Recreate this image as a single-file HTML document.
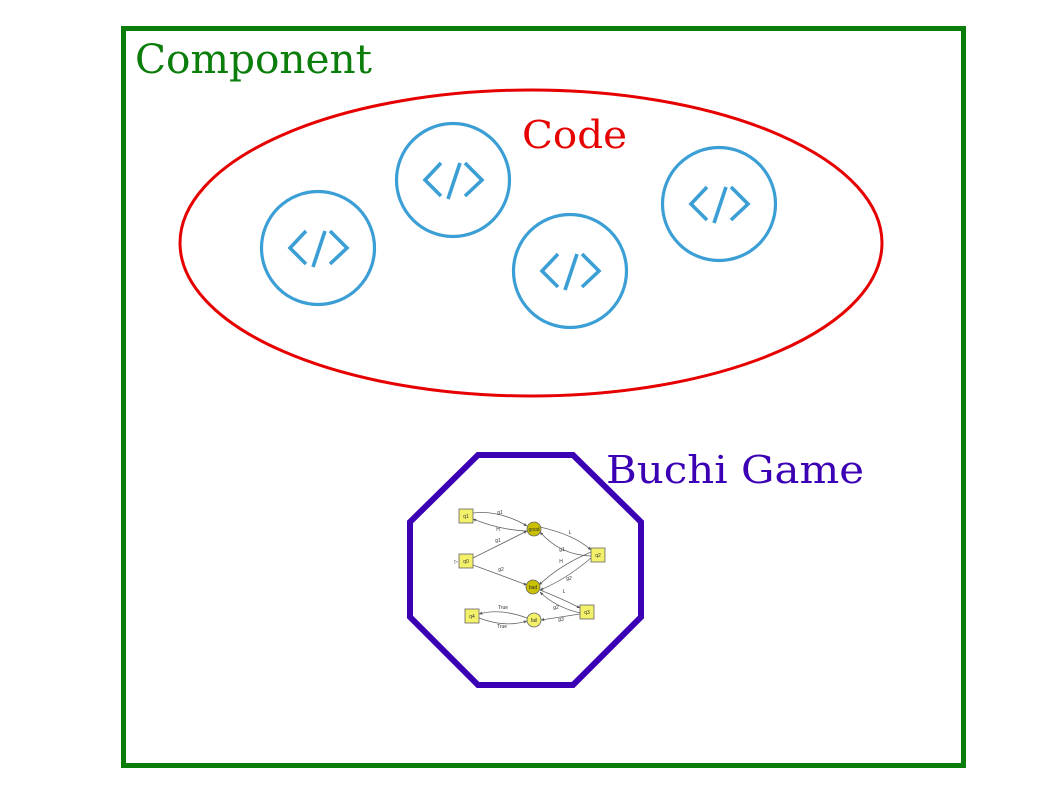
<!DOCTYPE html>
<html><head><style>html,body{margin:0;padding:0;background:#fff;}svg{display:block}</style></head>
<body>
<svg width="1058" height="794" viewBox="0 0 1058 794" xmlns="http://www.w3.org/2000/svg">
<defs>
<g id="ic" fill="none" stroke="#3b9fd6" stroke-width="3.2">
<circle r="56.5"/>
<polyline points="-12,-17 -28,0 -12,16" stroke-width="3.6"/>
<polyline points="12,-17 29,0 12,16" stroke-width="3.6"/>
<line x1="7" y1="-17" x2="-5" y2="19" stroke-width="3.6"/>
</g>
<marker id="ar" markerWidth="4" markerHeight="4" refX="4" refY="2" orient="auto"><path d="M0,0L4,2L0,4z" fill="#555"/></marker>
</defs>
<rect x="123.5" y="28.5" width="840" height="737" fill="none" stroke="#0b7d0b" stroke-width="5"/>
<text x="135" y="73" font-family="DejaVu Serif, Liberation Serif, serif" font-size="40" fill="#0b7d0b" textLength="237" lengthAdjust="spacingAndGlyphs">Component</text>
<ellipse cx="531" cy="243" rx="351" ry="153" fill="none" stroke="#e60000" stroke-width="3"/>
<text x="522" y="148" font-family="DejaVu Serif, Liberation Serif, serif" font-size="38" fill="#e60000" textLength="105" lengthAdjust="spacingAndGlyphs">Code</text>
<use href="#ic" x="318" y="248"/>
<use href="#ic" x="453" y="180"/>
<use href="#ic" x="570" y="271"/>
<use href="#ic" x="719" y="204"/>
<polygon points="478,455 573,455 641,522 641,617 573,685 478,685 410,617 410,522" fill="none" stroke="#3c00b4" stroke-width="6"/>
<text x="606" y="483" font-family="DejaVu Serif, Liberation Serif, serif" font-size="38" fill="#3c00b4" textLength="258" lengthAdjust="spacingAndGlyphs">Buchi Game</text>
<g stroke="#666" stroke-width="0.8" fill="none" marker-end="url(#ar)">
<path d="M473,513 Q500,510 527,526"/>
<path d="M527,531 Q500,530 473,519"/>
<path d="M473,558 L527,531"/>
<path d="M473,565 L527,585"/>
<path d="M540,527 Q575,535 591,550"/>
<path d="M591,556 Q560,555 540,532"/>
<path d="M591,552 Q560,565 539,585"/>
<path d="M591,558 Q565,580 540,590"/>
<path d="M540,590 Q565,600 580,608"/>
<path d="M580,613 Q555,607 540,592"/>
<path d="M580,614 L541,620"/>
<path d="M527,618 Q500,608 479,614"/>
<path d="M479,618 Q505,628 527,621"/>
</g>
<g stroke="#666" stroke-width="0.8" fill="#f3f06a">
<rect x="459" y="509" width="14" height="14"/>
<rect x="459" y="554" width="14" height="14"/>
<rect x="591" y="548" width="14" height="14"/>
<rect x="580" y="605" width="14" height="14"/>
<rect x="465" y="609" width="14" height="14"/>
<circle cx="534" cy="620" r="7"/>
<circle cx="534" cy="529" r="7" fill="#c8c000"/>
<circle cx="533" cy="587" r="7" fill="#c8c000"/>
</g>
<g font-family="Liberation Sans, sans-serif" font-size="5" fill="#333" text-anchor="middle">
<text x="466" y="518">q1</text><text x="466" y="563">q0</text><text x="598" y="557">q2</text>
<text x="587" y="614">q3</text><text x="472" y="618">q4</text><text x="534" y="622">fail</text>
<text x="534" y="531">good</text><text x="533" y="589">bad</text>
<text x="500" y="514">g1</text><text x="498" y="531">H</text><text x="498" y="542">g1</text>
<text x="501" y="571">g2</text><text x="570" y="534">L</text><text x="562" y="551">g1</text>
<text x="561" y="563">H</text><text x="569" y="580">g2</text><text x="564" y="593">L</text>
<text x="556" y="609">g2</text><text x="561" y="621">g3</text><text x="503" y="609">True</text>
<text x="502" y="628">True</text><text x="456" y="563">▷</text>
</g>
</svg>
</body></html>
